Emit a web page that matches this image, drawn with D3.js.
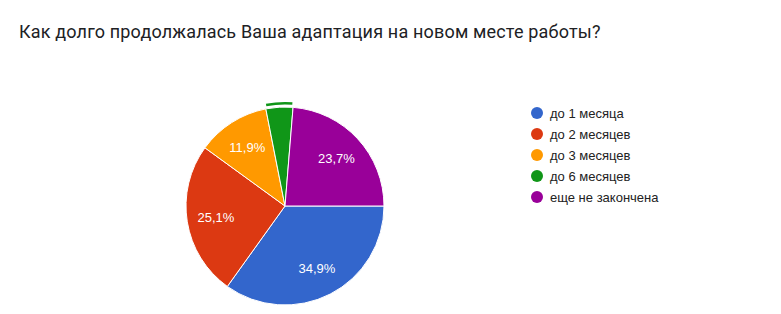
<!DOCTYPE html>
<html>
<head>
<meta charset="utf-8">
<script src="https://cdn.jsdelivr.net/npm/d3@7"></script>
<style>
  body { margin: 0; background: #fff; }
  #chart { width: 781px; height: 314px; }
  .title { font-family: Roboto, sans-serif; font-size: 18px; letter-spacing: 0.17px; fill: #202124; }
  .legend text { font-family: "Liberation Sans", Arial, sans-serif; font-size: 13px; fill: #222; }
  .pct { font-family: "Liberation Sans", Arial, sans-serif; font-size: 13px; fill: #fff; }
</style>
</head>
<body>
<div id="chart"></div>
<script>
const categories = ["до 1 месяца", "до 2 месяцев", "до 3 месяцев", "до 6 месяцев", "еще не закончена"];
const values = [34.9, 25.1, 11.9, 4.4, 23.7];
const colors = ["#3366cc", "#dc3912", "#ff9900", "#109618", "#990099"];
const labels = ["34,9%", "25,1%", "11,9%", "", "23,7%"];
const highlighted = 3;

const width = 781, height = 314;
const cx = 285, cy = 206, radius = 99;

const svg = d3.select("#chart").append("svg")
    .attr("width", width)
    .attr("height", height);

svg.append("text")
    .attr("class", "title")
    .attr("x", 19)
    .attr("y", 38)
    .text("Как долго продолжалась Ваша адаптация на новом месте работы?");

/*
PIE
*/
const pie = d3.pie()
    .sort(null)
    .startAngle(Math.PI / 2)
    .endAngle(Math.PI / 2 + 2 * Math.PI);

const arcs = pie(values);
const arc = d3.arc().innerRadius(0).outerRadius(radius);
const labelArc = d3.arc().innerRadius(70).outerRadius(70);

const g = svg.append("g").attr("transform", `translate(${cx},${cy})`);

g.selectAll("path.slice")
    .data(arcs)
    .enter()
    .append("path")
        .attr("class", "slice")
        .attr("d", arc)
        .attr("fill", (d, i) => colors[i])
        .attr("stroke", "#fff")
        .attr("stroke-width", 1);

// hover ring over the highlighted slice
const ring = d3.arc().innerRadius(radius + 2.5).outerRadius(radius + 5);
g.append("path")
    .attr("d", ring({startAngle: arcs[highlighted].startAngle + 0.01, endAngle: arcs[highlighted].endAngle - 0.01}))
    .attr("fill", colors[highlighted]);

g.selectAll("text.pct")
    .data(arcs)
    .enter()
    .append("text")
        .attr("class", "pct")
        .attr("transform", d => `translate(${labelArc.centroid(d)})`)
        .attr("text-anchor", "middle")
        .attr("dy", "0.35em")
        .text((d, i) => labels[i]);

/*
LEGEND
*/
const legend = svg.append("g")
    .attr("class", "legend")
    .attr("transform", "translate(537,113)");

const item = legend.selectAll("g")
    .data(categories)
    .enter()
    .append("g")
        .attr("transform", (d, i) => `translate(0,${i * 21})`);

item.append("circle")
    .attr("r", 6)
    .attr("fill", (d, i) => colors[i]);

item.append("text")
    .attr("x", 13)
    .attr("dy", "0.35em")
    .text(d => d);
</script>
</body>
</html>
